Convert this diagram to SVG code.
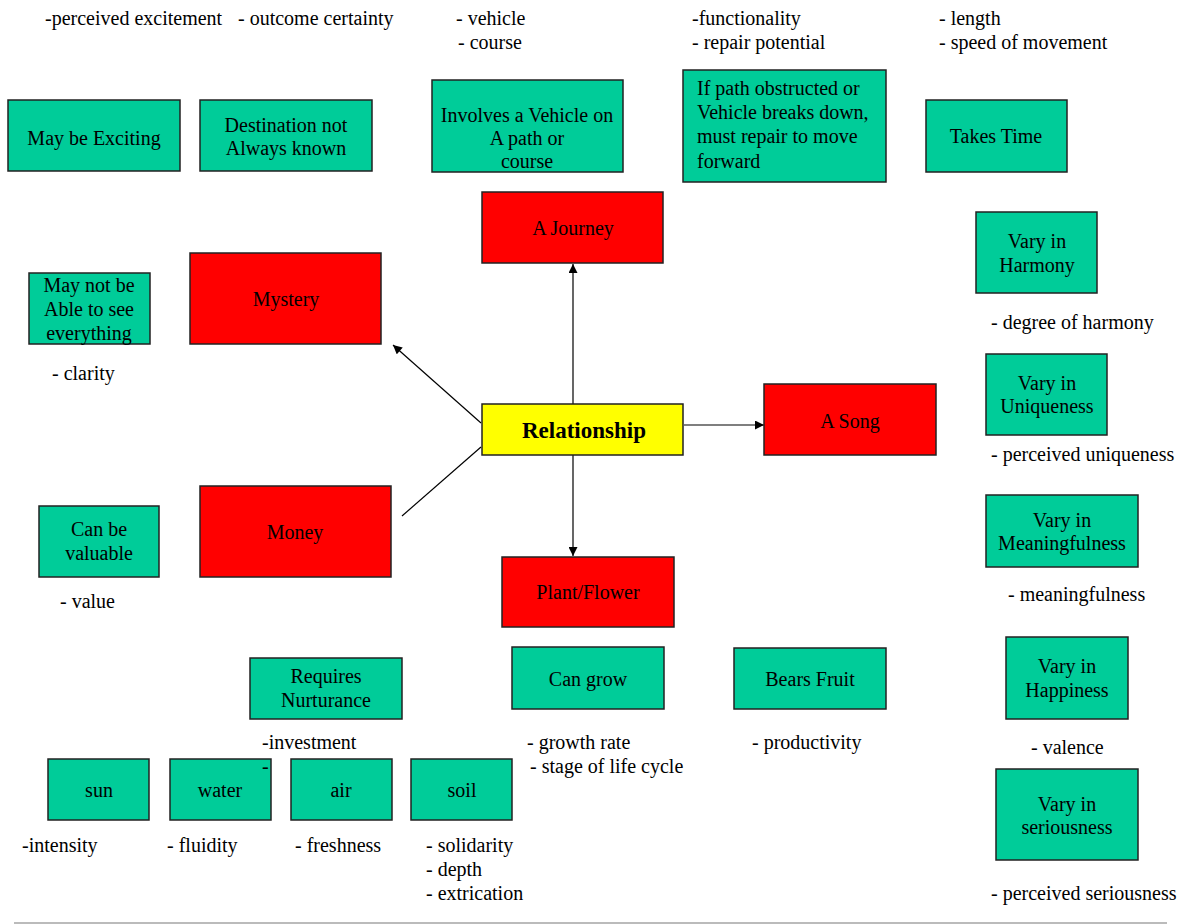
<svg xmlns="http://www.w3.org/2000/svg" width="1191" height="924" viewBox="0 0 1191 924">
<style>
.g{fill:#00CC99;stroke:#222;stroke-width:1.5}
.r{fill:#FF0000;stroke:#222;stroke-width:1.5}
.y{fill:#FFFF00;stroke:#222;stroke-width:1.5}
text{font-family:"Liberation Serif","Times New Roman",serif;font-size:20px;fill:#000}
.c{text-anchor:middle}
.b{font-weight:bold;font-size:23px}
.conn{stroke:#000;stroke-width:1.2;fill:none}
</style>
<defs>
<marker id="ah" viewBox="0 0 10 10" refX="10" refY="5" markerWidth="10" markerHeight="9" markerUnits="userSpaceOnUse" orient="auto">
<path d="M0,0 L10,5 L0,10 z" fill="#000"/>
</marker>
</defs>
<rect width="1191" height="924" fill="#fff"/>

<g id="connectors">
<line class="conn" x1="573" y1="404" x2="573" y2="264" marker-end="url(#ah)"/>
<line class="conn" x1="573" y1="455" x2="573" y2="556" marker-end="url(#ah)"/>
<line class="conn" x1="684" y1="425" x2="764" y2="425" marker-end="url(#ah)"/>
<line class="conn" x1="481" y1="423" x2="393" y2="345" marker-end="url(#ah)"/>
<line class="conn" x1="481" y1="447" x2="402" y2="516"/>
</g>

<g id="relationship"><rect class="y" x="482" y="404" width="201" height="51"/><text class="c b" x="584" y="438">Relationship</text></g>
<g id="journey"><rect class="r" x="482" y="192" width="181" height="71"/><text class="c" x="573" y="235">A Journey</text></g>
<g id="mystery"><rect class="r" x="190" y="253" width="191" height="91"/><text class="c" x="286" y="306">Mystery</text></g>
<g id="money"><rect class="r" x="200" y="486" width="191" height="91"/><text class="c" x="295" y="539">Money</text></g>
<g id="plant"><rect class="r" x="502" y="557" width="172" height="70"/><text class="c" x="588" y="599">Plant/Flower</text></g>
<g id="song"><rect class="r" x="764" y="384" width="172" height="71"/><text class="c" x="850" y="428">A Song</text></g>

<g id="exciting"><rect class="g" x="8" y="100" width="172" height="71"/><text class="c" x="94" y="145">May be Exciting</text></g>
<g id="destination"><rect class="g" x="200" y="100" width="172" height="71"/><text class="c" x="286" y="132">Destination not</text><text class="c" x="286" y="155">Always known</text></g>
<g id="vehicle"><rect class="g" x="432" y="80" width="191" height="92"/><text class="c" x="527" y="122">Involves a Vehicle on</text><text class="c" x="527" y="145">A path or</text><text class="c" x="527" y="168">course</text></g>
<g id="obstructed"><rect class="g" x="683" y="70" width="203" height="112"/><text x="697" y="95">If path obstructed or</text><text x="697" y="119">Vehicle breaks down,</text><text x="697" y="143">must repair to move</text><text x="697" y="168">forward</text></g>
<g id="time"><rect class="g" x="926" y="100" width="141" height="72"/><text class="c" x="996" y="143">Takes Time</text></g>
<g id="see"><rect class="g" x="29" y="273" width="121" height="71"/><text class="c" x="89" y="292">May not be</text><text class="c" x="89" y="316">Able to see</text><text class="c" x="89" y="340">everything</text></g>
<g id="valuable"><rect class="g" x="39" y="506" width="120" height="71"/><text class="c" x="99" y="536">Can be</text><text class="c" x="99" y="560">valuable</text></g>
<g id="harmony"><rect class="g" x="976" y="212" width="121" height="81"/><text class="c" x="1037" y="248">Vary in</text><text class="c" x="1037" y="272">Harmony</text></g>
<g id="uniqueness"><rect class="g" x="986" y="354" width="121" height="81"/><text class="c" x="1047" y="390">Vary in</text><text class="c" x="1047" y="413">Uniqueness</text></g>
<g id="meaningfulness"><rect class="g" x="986" y="495" width="152" height="72"/><text class="c" x="1062" y="527">Vary in</text><text class="c" x="1062" y="550">Meaningfulness</text></g>
<g id="happiness"><rect class="g" x="1006" y="637" width="122" height="82"/><text class="c" x="1067" y="673">Vary in</text><text class="c" x="1067" y="697">Happiness</text></g>
<g id="seriousness"><rect class="g" x="996" y="769" width="142" height="91"/><text class="c" x="1067" y="811">Vary in</text><text class="c" x="1067" y="834">seriousness</text></g>
<g id="fruit"><rect class="g" x="734" y="648" width="152" height="61"/><text class="c" x="810" y="686">Bears Fruit</text></g>
<g id="grow"><rect class="g" x="512" y="647" width="152" height="62"/><text class="c" x="588" y="686">Can grow</text></g>
<g id="nurturance"><rect class="g" x="250" y="658" width="152" height="61"/><text class="c" x="326" y="683">Requires</text><text class="c" x="326" y="707">Nurturance</text></g>
<g id="sun"><rect class="g" x="48" y="759" width="101" height="61"/><text class="c" x="99" y="797">sun</text></g>
<g id="water"><rect class="g" x="170" y="759" width="101" height="61"/><text class="c" x="220" y="797">water</text></g>
<g id="air"><rect class="g" x="291" y="759" width="101" height="61"/><text class="c" x="341" y="797">air</text></g>
<g id="soil"><rect class="g" x="411" y="759" width="101" height="61"/><text class="c" x="462" y="797">soil</text></g>

<g id="labels">
<text x="45" y="25">-perceived excitement</text>
<text x="238" y="25">- outcome certainty</text>
<text x="456" y="25">- vehicle</text>
<text x="458" y="49">- course</text>
<text x="692" y="25">-functionality</text>
<text x="692" y="49">- repair potential</text>
<text x="939" y="25">- length</text>
<text x="939" y="49">- speed of movement</text>
<text x="52" y="380">- clarity</text>
<text x="60" y="608">- value</text>
<text x="991" y="329">- degree of harmony</text>
<text x="991" y="461">- perceived uniqueness</text>
<text x="1008" y="601">- meaningfulness</text>
<text x="1031" y="754">- valence</text>
<text x="991" y="900">- perceived seriousness</text>
<text x="752" y="749">- productivity</text>
<text x="527" y="749">- growth rate</text>
<text x="530" y="773">- stage of life cycle</text>
<text x="262" y="749">-investment</text>
<text x="262" y="773">-</text>
<text x="22" y="852">-intensity</text>
<text x="167" y="852">- fluidity</text>
<text x="295" y="852">- freshness</text>
<text x="426" y="852">- solidarity</text>
<text x="426" y="876">- depth</text>
<text x="426" y="900">- extrication</text>
</g>
<line x1="14" y1="923" x2="1167" y2="923" stroke="#bbb" stroke-width="2"/>
</svg>
